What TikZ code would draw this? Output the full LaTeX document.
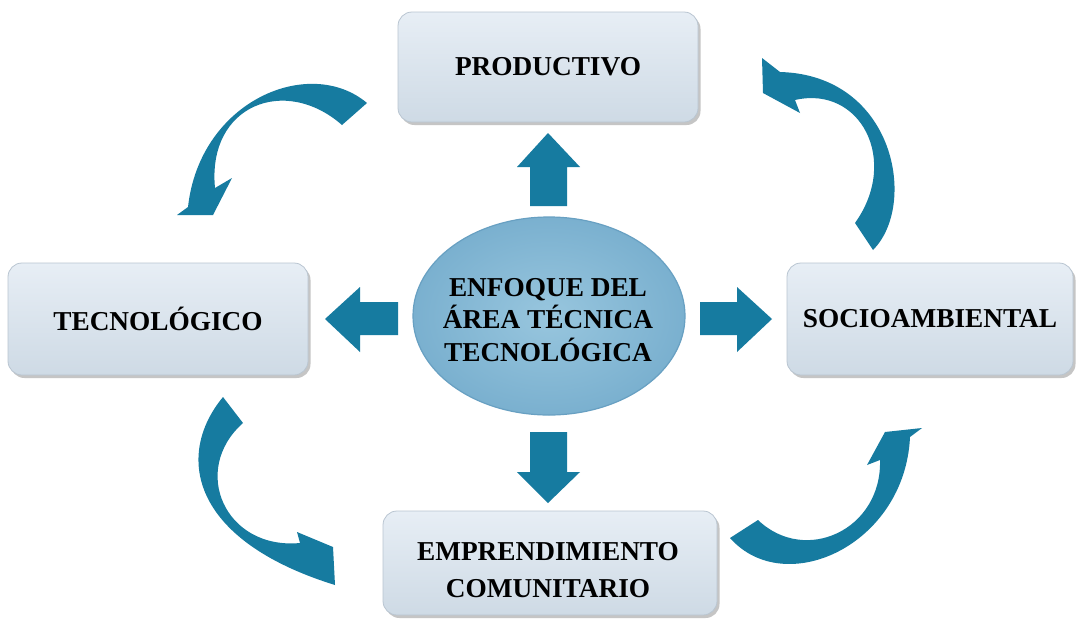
\documentclass[tikz,border=0pt]{standalone}
\usepackage{fontspec}
\setmainfont{Liberation Serif}
\usetikzlibrary{shapes.geometric,shadows}
\definecolor{arrowc}{RGB}{22,123,160}
\definecolor{boxtop}{RGB}{231,238,245}
\definecolor{boxbot}{RGB}{206,218,229}
\definecolor{boxline}{RGB}{185,197,209}
\definecolor{ellin}{RGB}{152,198,222}
\definecolor{ellout}{RGB}{122,176,207}
\definecolor{ellline}{RGB}{104,160,194}
\begin{document}
\begin{tikzpicture}[x=1pt,y=-1pt,
  box/.style={rectangle, rounded corners=14pt, draw=boxline, line width=0.8pt,
    top color=boxtop, bottom color=boxbot,
    drop shadow={shadow xshift=2.5pt, shadow yshift=-3pt, fill=black!45, opacity=0.5},
    font=\fontsize{27.3}{37}\selectfont\bfseries, align=center, inner sep=0pt},
  boxtxt/.style={font=\fontsize{27.3}{37}\selectfont\bfseries, align=center, inner sep=0pt},
  core/.style={ellipse, draw=ellline, line width=1.2pt, shading=radial,
    inner color=ellin, outer color=ellout, inner sep=0pt},
  coretxt/.style={font=\fontsize{27.3}{32.5}\selectfont\bfseries, align=center, inner sep=0pt},
  blockarrow/.style={fill=arrowc},
  bendarrow/.style={fill=arrowc}]
\useasboundingbox (0,0) rectangle (1076,619);
\fill[white] (0,0) rectangle (1076,619);

% boxes
\node[box, minimum width=300pt, minimum height=110pt] (prod) at (548,67) {PRODUCTIVO};
\node[box, minimum width=300pt, minimum height=112pt] (tec) at (158,319) {TECNOLÓGICO};
\node[box, minimum width=286pt, minimum height=112pt] (soc) at (930,319) {SOCIOAMBIENTAL};
\node[box, minimum width=334pt, minimum height=104pt] (emp) at (550,563) {};
\node[boxtxt] (emptext) at (548,570) {EMPRENDIMIENTO\\COMUNITARIO};

% centre ellipse
\node[core, minimum width=272pt, minimum height=198pt] (core) at (549,316) {};
\node[coretxt] (coretext) at (548,320) {ENFOQUE DEL\\ÁREA TÉCNICA\\TECNOLÓGICA};

% straight block arrows
\fill[blockarrow] (548,133) -- (580,167) -- (567,167) -- (567,206) -- (530,206) -- (530,167) -- (517,167) -- cycle;
\fill[blockarrow] (325,319) -- (360,287) -- (360,302) -- (398,302) -- (398,335) -- (360,335) -- (360,352) -- cycle;
\fill[blockarrow] (772,319) -- (737,287) -- (737,302) -- (700,302) -- (700,335) -- (737,335) -- (737,352) -- cycle;
\fill[blockarrow] (548,503) -- (517,472) -- (530,472) -- (530,432) -- (567,432) -- (567,472) -- (580,472) -- cycle;

% curved arrows
% top left
\fill[bendarrow] (367,103) .. controls (310,55) and (200,100) .. (188,207)
  -- (177,215) -- (213,215) -- (232,178) -- (215,188)
  .. controls (207,105) and (285,75) .. (342,125) -- cycle;
% top right
\fill[bendarrow] (873,250) .. controls (918,205) and (895,75) .. (780,72)
  -- (762,58) -- (763,93) -- (800,113) -- (795,100)
  .. controls (860,85) and (900,160) .. (855,223) -- cycle;
% bottom left
\fill[bendarrow] (223,397) .. controls (175,455) and (190,540) .. (335,585)
  -- (333,547) -- (297,532) -- (300,543)
  .. controls (225,550) and (190,470) .. (243,423) -- cycle;
% bottom right
\fill[bendarrow] (730,538) .. controls (785,600) and (905,545) .. (910,437)
  -- (922,428) -- (885,432) -- (867,465) -- (880,460)
  .. controls (882,530) and (805,565) .. (758,520) -- cycle;
\end{tikzpicture}
\end{document}
